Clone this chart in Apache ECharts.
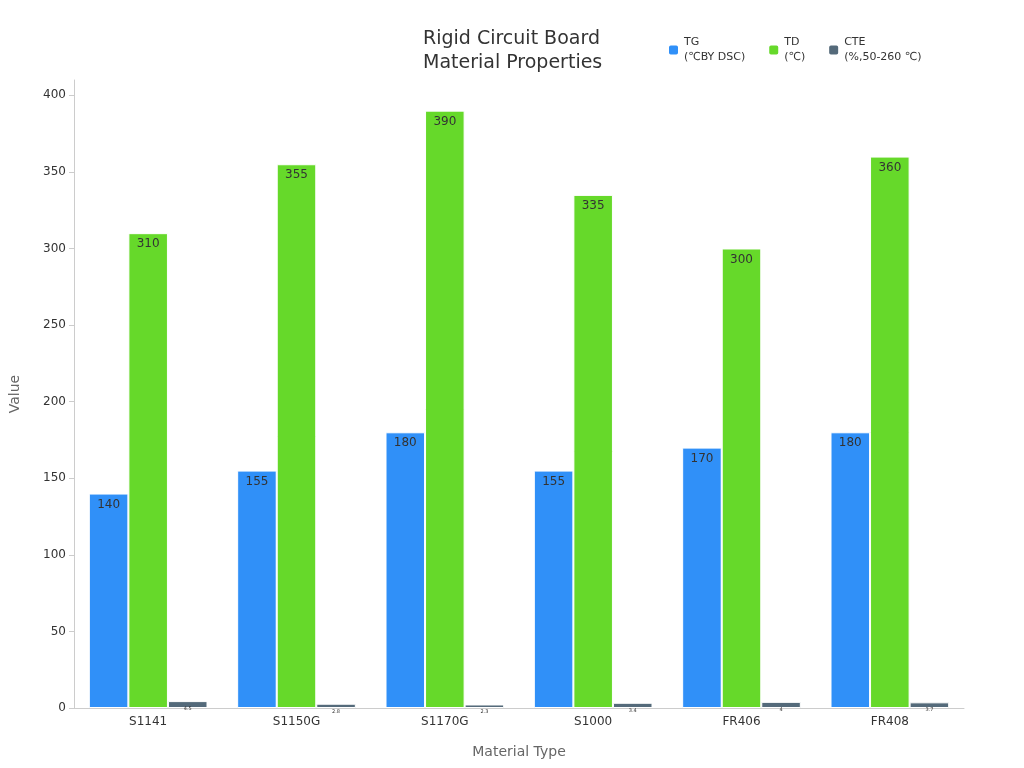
<!DOCTYPE html>
<html><head><meta charset="utf-8">
<script src="https://cdn.jsdelivr.net/npm/echarts@6/dist/echarts.min.js"></script>
<style>html,body{margin:0;padding:0;background:#fff}#chart{width:1024px;height:768px}</style>
</head><body><div id="chart"></div>
<script>
var categories = ["S1141", "S1150G", "S1170G", "S1000", "FR406", "FR408"];
var tgValues = [140, 155, 180, 155, 170, 180];
var tdValues = [310, 355, 390, 335, 300, 360];
var cteValues = [4.5, 2.8, 2.3, 3.4, 4.0, 3.7];
var seriesNames = ["TG\n(℃BY DSC)", "TD\n(℃)", "CTE\n(%,50-260 ℃)"];
var colors = ["#3090f8", "#66d92a", "#546a7a"];

var chart = echarts.init(document.getElementById("chart"), null, { renderer: "canvas" });

function makeSeries(name, data, color) {
    return {
        name: name,
        type: "bar",
        data: data,
        barGap: "0%",
        barCategoryGap: "20%",
        itemStyle: { color: color, borderColor: "#fff", borderWidth: 1 },
        label: {
            show: true,
            position: "insideTop",
            color: "#333",
            fontSize: name.indexOf("CTE") === 0 ? 5 : 12,
            fontFamily: "DejaVu Sans"
        }
    };
}

var option = {
    textStyle: { fontFamily: "DejaVu Sans" },
    title: {
        text: "Rigid Circuit Board\nMaterial Properties",
        left: 418,
        top: 22,
        textStyle: { fontSize: 19, fontWeight: "normal", color: "#333", lineHeight: 24, fontFamily: "DejaVu Sans" }
    },
    legend: {
        top: 30,
        left: 662,
        itemWidth: 11,
        itemHeight: 11,
        itemGap: 22,
        textStyle: { fontSize: 11, color: "#333", lineHeight: 15 },
        data: seriesNames
    },
    grid: { left: 68, right: 60, top: 80, bottom: 60 },
    xAxis: {
        type: "category",
        data: categories,
        name: "Material Type",
        nameLocation: "middle",
        nameGap: 37,
        nameTextStyle: { fontSize: 14, color: "#666" },
        axisLine: { lineStyle: { color: "#ccc" } },
        axisTick: { lineStyle: { color: "#ccc" } },
        axisLabel: { color: "#333", fontSize: 12 }
    },
    yAxis: {
        type: "value",
        min: 0,
        max: 410,
        interval: 50,
        name: "Value",
        nameLocation: "middle",
        nameGap: 52,
        nameTextStyle: { fontSize: 14, color: "#666" },
        axisLine: { show: true, lineStyle: { color: "#ccc" } },
        axisTick: { show: true, lineStyle: { color: "#ccc" } },
        axisLabel: { color: "#333", fontSize: 12, showMaxLabel: false },
        splitLine: { show: false }
    },
    series: [
        makeSeries(seriesNames[0], tgValues, colors[0]),
        makeSeries(seriesNames[1], tdValues, colors[1]),
        makeSeries(seriesNames[2], cteValues, colors[2])
    ]
};
chart.setOption(option);
</script></body></html>
